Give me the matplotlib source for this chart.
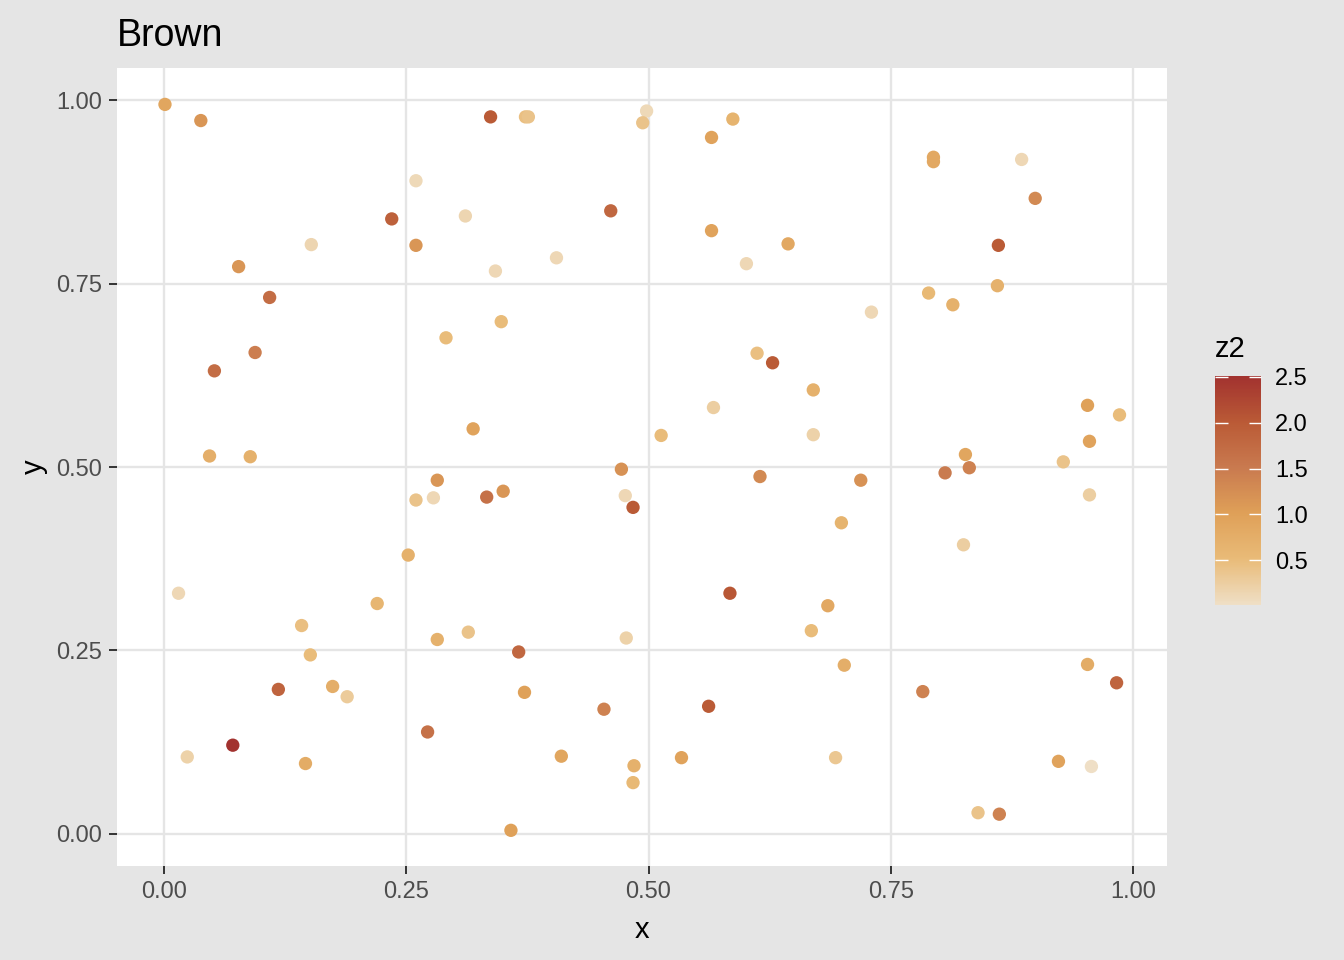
import numpy as np
import matplotlib
matplotlib.use("Agg")
import matplotlib.pyplot as plt
from matplotlib.colors import LinearSegmentedColormap, Normalize

plt.rcParams['font.family'] = ['Liberation Sans', 'DejaVu Sans']

# points: x, y and the colour value z2
x = [0.001, 0.038, 0.260, 0.235, 0.311, 0.152, 0.260, 0.077, 0.109, 0.291,
     0.094, 0.052, 0.047, 0.089, 0.319, 0.337, 0.373, 0.376, 0.498, 0.494,
     0.587, 0.565, 0.461, 0.565, 0.644, 0.405, 0.342, 0.601, 0.348, 0.612,
     0.628, 0.670, 0.567, 0.513, 0.670, 0.472, 0.794, 0.794, 0.885, 0.899,
     0.861, 0.860, 0.789, 0.814, 0.730, 0.953, 0.986, 0.955, 0.827, 0.928,
     0.831, 0.806, 0.282, 0.260, 0.278, 0.252, 0.015, 0.220, 0.142, 0.282,
     0.314, 0.151, 0.118, 0.174, 0.189, 0.272, 0.071, 0.024, 0.146, 0.615,
     0.333, 0.350, 0.476, 0.484, 0.584, 0.668, 0.477, 0.366, 0.372, 0.454,
     0.562, 0.410, 0.485, 0.534, 0.484, 0.358, 0.719, 0.955, 0.699, 0.825,
     0.685, 0.702, 0.953, 0.983, 0.783, 0.693, 0.923, 0.957, 0.840, 0.862]
y = [0.994, 0.972, 0.890, 0.838, 0.842, 0.803, 0.802, 0.773, 0.731, 0.676,
     0.656, 0.631, 0.515, 0.514, 0.552, 0.977, 0.977, 0.977, 0.985, 0.969,
     0.974, 0.949, 0.849, 0.822, 0.804, 0.785, 0.767, 0.777, 0.698, 0.655,
     0.642, 0.605, 0.581, 0.543, 0.544, 0.497, 0.922, 0.916, 0.919, 0.866,
     0.802, 0.747, 0.737, 0.721, 0.711, 0.584, 0.571, 0.535, 0.517, 0.507,
     0.499, 0.492, 0.482, 0.455, 0.458, 0.380, 0.328, 0.314, 0.284, 0.265,
     0.275, 0.244, 0.197, 0.201, 0.187, 0.139, 0.121, 0.105, 0.096, 0.487,
     0.459, 0.467, 0.461, 0.445, 0.328, 0.277, 0.267, 0.248, 0.193, 0.170,
     0.174, 0.106, 0.093, 0.104, 0.070, 0.005, 0.482, 0.462, 0.424, 0.394,
     0.311, 0.230, 0.231, 0.206, 0.194, 0.104, 0.099, 0.092, 0.029, 0.027]
z2 = [0.90, 1.15, 0.10, 1.90, 0.15, 0.15, 1.15, 1.15, 1.70, 0.50,
      1.45, 1.70, 0.75, 0.70, 0.95, 2.00, 0.45, 0.40, 0.10, 0.40,
      0.65, 0.95, 1.80, 0.95, 0.85, 0.12, 0.12, 0.12, 0.50, 0.45,
      2.00, 0.70, 0.25, 0.50, 0.20, 1.20, 0.85, 0.85, 0.12, 1.30,
      2.00, 0.70, 0.55, 0.70, 0.12, 1.00, 0.50, 0.95, 0.90, 0.40,
      1.40, 1.50, 1.15, 0.40, 0.12, 0.70, 0.12, 0.60, 0.45, 0.70,
      0.40, 0.50, 1.85, 0.75, 0.30, 1.65, 2.51, 0.20, 0.80, 1.30,
      1.65, 1.15, 0.12, 2.00, 2.05, 0.50, 0.20, 1.80, 1.00, 1.40,
      2.00, 0.90, 0.70, 0.95, 0.55, 1.00, 1.20, 0.25, 0.65, 0.25,
      0.85, 0.75, 0.80, 1.85, 1.40, 0.35, 0.95, 0.01, 0.40, 1.40]

ticks = [0.00, 0.25, 0.50, 0.75, 1.00]
tick_labels = ['0.00', '0.25', '0.50', '0.75', '1.00']
cbar_ticks = [0.5, 1.0, 1.5, 2.0, 2.5]

brown = LinearSegmentedColormap.from_list(
    'brown', [(0.0, '#EFDFC6'), (0.2, '#E9BB78'), (0.4, '#DFA058'),
              (0.6, '#C97A4F'), (0.8, '#BA5A36'), (1.0, '#A2322F')])
norm = Normalize(vmin=min(z2), vmax=max(z2))

fig = plt.figure(figsize=(13.44, 9.6), dpi=100, facecolor='#E5E5E5')
ax = fig.add_axes([117/1344, 1 - 866/960, 1050/1344, 798/960])
ax.set_facecolor('white')

sc = ax.scatter(x, y, c=z2, cmap=brown, norm=norm, s=92, linewidths=0, zorder=3)

ax.set_xlim(-0.0485, 1.035)
ax.set_ylim(-0.0436, 1.0436)
ax.set_xticks(ticks)
ax.set_xticklabels(tick_labels)
ax.set_yticks(ticks)
ax.set_yticklabels(tick_labels)
ax.grid(True, color='#E5E5E5', linewidth=1.7, zorder=0)
ax.set_axisbelow(True)
for s in ax.spines.values():
    s.set_visible(False)
ax.tick_params(length=6, width=1.4, color='#333333', labelcolor='#4D4D4D',
               labelsize=17, pad=5)

ax.set_xlabel('x', fontsize=21, labelpad=9)
ax.set_ylabel('y', fontsize=21, labelpad=6)

fig.text(117/1344, 1 - 46/960, 'Brown', fontsize=27, va='baseline', ha='left')

cax = fig.add_axes([1215/1344, 1 - 605/960, 46/1344, 229/960])
cb = fig.colorbar(sc, cax=cax, ticks=cbar_ticks)
cb.outline.set_visible(False)
cb.ax.tick_params(direction='in', color='white', length=9, width=1,
                  left=True, right=True, labelsize=17, pad=10)
cb.ax.set_yticklabels(['0.5', '1.0', '1.5', '2.0', '2.5'])
fig.text(1215/1344, 1 - 357/960, 'z2', fontsize=21, va='baseline', ha='left')

fig.savefig('out.png', dpi=100, facecolor=fig.get_facecolor())
